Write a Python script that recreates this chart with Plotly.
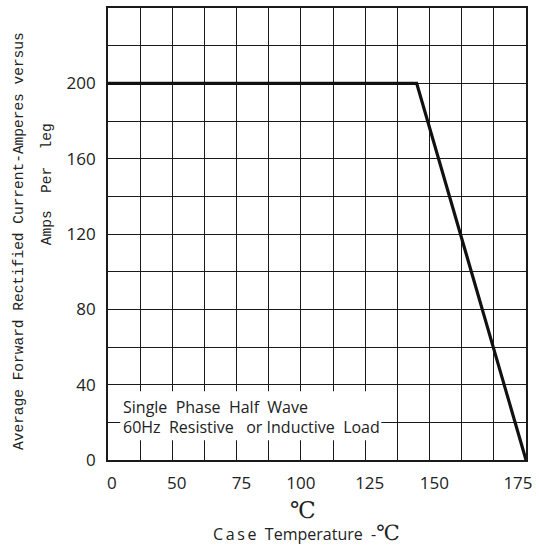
import numpy as np
import plotly.graph_objects as go

# ---- data ----
temp_tick_labels = [0, 50, 75, 100, 125, 150, 175]      # x tick labels (deg C)
temp_tick_grid = [0, 2, 4, 6, 8, 10, 13]                # grid column each label belongs to
current_tick_labels = [0, 40, 80, 120, 160, 200]        # y tick labels (A)
case_temp = [0, 145, 175]                               # derating curve, deg C
avg_current = [200, 200, 0]                             # amps per leg

# ---- layout helpers (positions/styles) ----
label_pos = [0.12, 2.14, 4.15, 6.0, 8.14, 10.15, 12.75]  # label centres on the grid axis
n_cols = 13
y_max = 240
y_grid_step = 20

x_plot = np.interp(case_temp, temp_tick_labels, temp_tick_grid)

fig = go.Figure()
fig.add_trace(go.Scatter(x=x_plot, y=avg_current, mode="lines",
                         line=dict(color="#111111", width=3.2),
                         hoverinfo="skip", showlegend=False))
# invisible trace to activate the label axis
fig.add_trace(go.Scatter(x=[0], y=[0], xaxis="x2", mode="markers",
                         marker=dict(opacity=0), hoverinfo="skip", showlegend=False))

line_col = "#1a1a1a"
tick_font = dict(family="Open Sans, Noto Sans, sans-serif", size=17, color="#222")
yvals = list(range(0, y_max + 1, y_grid_step))
ytext = [str(v) if v in current_tick_labels else "" for v in yvals]

fig.update_layout(
    width=539, height=546,
    margin=dict(l=108, r=13, t=6, b=86),
    paper_bgcolor="white", plot_bgcolor="white",
    xaxis=dict(range=[0, n_cols], tickmode="linear", tick0=0, dtick=1,
               showticklabels=False, showgrid=True, gridcolor=line_col, gridwidth=1.4,
               showline=True, linecolor=line_col, linewidth=1.8, mirror=True,
               zeroline=False, ticks="", fixedrange=True),
    xaxis2=dict(range=[0, n_cols], overlaying="x", side="bottom", anchor="y",
                tickmode="array", tickvals=label_pos,
                ticktext=[str(v) for v in temp_tick_labels],
                showgrid=False, showline=False, zeroline=False, ticks="",
                ticklabelstandoff=11,
                tickfont=tick_font, fixedrange=True),
    yaxis=dict(range=[0, y_max], tickmode="array", tickvals=yvals, ticktext=ytext,
               showgrid=True, gridcolor=line_col, gridwidth=1.4,
               showline=True, linecolor=line_col, linewidth=1.8, mirror=True,
               zeroline=False, ticks="", ticklabelstandoff=7,
               tickfont=tick_font, fixedrange=True),
)

# white box behind the note text
fig.add_shape(type="rect", xref="x", yref="y",
              x0=0.38, x1=8.5, y0=10.5, y1=36.5,
              fillcolor="white", line=dict(width=0), layer="above")

nb = "\u00a0"
ts = "\u2009"
note_font = dict(family="Open Sans, Noto Sans, sans-serif", size=16, color="#222")
fig.add_annotation(xref="x", yref="y", x=0.40, y=28.1, xanchor="left", yanchor="middle",
                   text=f"Single{nb}{nb}Phase{nb}{nb}Half{nb}{nb}Wave",
                   showarrow=False, font=note_font)
fig.add_annotation(xref="x", yref="y", x=0.40, y=17.5, xanchor="left", yanchor="middle",
                   text=f"60Hz{nb}{nb}Resistive{nb}{nb}{nb}or{nb}Inductive{nb}{nb}Load",
                   showarrow=False, font=note_font)

# x-axis titles
fig.add_annotation(xref="paper", yref="paper", x=(303 - 108) / 418, y=-(510 - 460) / 454,
                   xanchor="center", yanchor="middle", text="℃", showarrow=False,
                   font=dict(family="DejaVu Serif, Noto Sans CJK SC, serif", size=23, color="#222"))
fig.add_annotation(xref="paper", yref="paper", x=(306 - 108) / 418, y=-(533 - 460) / 454,
                   xanchor="center", yanchor="middle",
                   text=(f"C{ts}a{ts}s{ts}e{nb}{nb}Temperature{nb}{nb}-"
                         "<span style='font-size:21px;font-family:DejaVu Serif'>℃</span>"),
                   showarrow=False,
                   font=dict(family="Open Sans, Noto Sans, sans-serif", size=16, color="#222"))

# y-axis titles (two rotated lines)
ytitle_font = dict(family="Liberation Mono, monospace", size=14.5, color="#222")
fig.add_annotation(xref="paper", yref="paper", x=(19 - 108) / 418, y=(460 - 240) / 454,
                   xanchor="center", yanchor="middle", textangle=-90,
                   text="Average Forward Rectified Current-Amperes versus".replace(" ", nb),
                   showarrow=False, font=ytitle_font)
fig.add_annotation(xref="paper", yref="paper", x=(47 - 108) / 418, y=(460 - 183) / 454,
                   xanchor="center", yanchor="middle", textangle=-90,
                   text=f"Amps{nb}{nb}Per{nb}{nb}leg", showarrow=False, font=ytitle_font)

fig.write_html("out.html", config={"displayModeBar": False},
               post_script="document.body.style.margin='0';document.body.style.overflow='hidden';")
